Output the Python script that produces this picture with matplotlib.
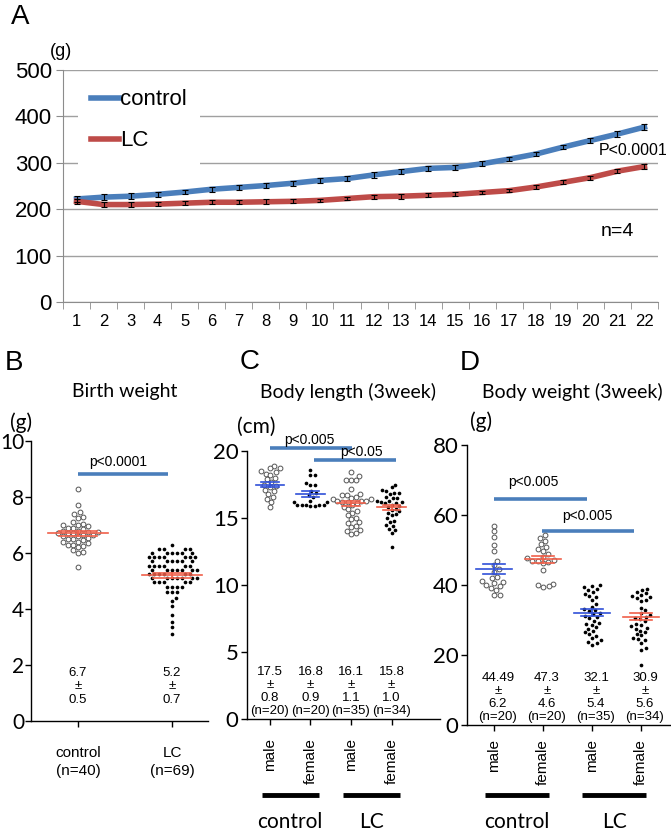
import numpy as np
import matplotlib
matplotlib.use('Agg')
import matplotlib.pyplot as plt

# ---------------- data ----------------
days = np.arange(1, 23)
control_w = [222, 226, 228, 232, 237, 243, 247, 251, 256, 262, 266, 274, 281, 288,
             290, 298, 308, 319, 334, 348, 362, 377]
control_se = [6, 6, 6, 5, 5, 5, 5, 5, 5, 6, 6, 6, 5, 6, 5, 5, 5, 5, 5, 6, 7, 7]
lc_w = [217, 210, 210, 211, 213, 215, 215, 216, 217, 219, 223, 227, 228, 230,
        232, 236, 240, 248, 258, 268, 282, 292]
lc_se = [6, 6, 6, 4, 4, 4, 4, 5, 4, 4, 4, 4, 5, 4, 4, 4, 4, 4, 4, 4, 5, 6]

birth_groups = ['control\n(n=40)', 'LC\n(n=69)']
birth_mean = ['6.7', '5.2']
birth_sd = ['0.5', '0.7']
birth_n = [40, 69]
birth_control = [8.3, 7.7, 7.45, 7.4, 7.3, 7.25, 7.1, 7.05, 7.0, 7.0, 6.95, 6.9, 6.9,
                 6.85, 6.8, 6.8, 6.75, 6.75, 6.7, 6.7, 6.7, 6.65, 6.65, 6.6, 6.6, 6.55,
                 6.5, 6.5, 6.45, 6.4, 6.4, 6.35, 6.3, 6.3, 6.25, 6.2, 6.1, 6.05, 6.0, 5.5]
birth_lc = ([6.3] + [6.15] * 4 + [6.0] * 6 + [5.85] * 7 + [5.7] * 6 + [5.55] * 6 +
            [5.4] * 7 + [5.25] * 6 + [5.1] * 7 + [4.95] * 5 + [4.8] * 4 + [4.6] * 3 +
            [4.4, 4.3, 4.1, 3.8, 3.55, 3.35, 3.1])

sex_labels = ['male', 'female', 'male', 'female']
group_labels = ['control', 'LC']

len_mean = ['17.5', '16.8', '16.1', '15.8']
len_sd = ['0.8', '0.9', '1.1', '1.0']
len_n = [20, 20, 35, 34]
len_vals = [
    [18.9, 18.7, 18.7, 18.5, 18.4, 18.3, 18.2, 18.0, 17.9, 17.7, 17.5, 17.4, 17.3,
     17.1, 17.0, 16.8, 16.6, 16.4, 16.2, 15.8],
    [18.6, 18.2, 18.2, 17.6, 17.5, 17.5, 17.0, 16.9, 16.7, 16.6, 16.3, 16.2, 16.2,
     16.0, 16.0, 16.0, 16.0, 16.0, 15.9, 15.9],
    [18.4, 18.1, 17.8, 17.8, 17.8, 17.2, 16.8, 16.7, 16.7, 16.6, 16.5, 16.4, 16.4,
     16.3, 16.3, 16.3, 16.2, 16.2, 16.1, 16.0, 15.8, 15.7, 15.5, 15.4, 15.2, 15.0,
     14.9, 14.7, 14.6, 14.4, 14.3, 14.1, 14.0, 13.9, 13.8],
    [17.5, 17.3, 17.1, 17.0, 16.9, 16.9, 16.8, 16.6, 16.5, 16.5, 16.3, 16.3, 16.2,
     16.2, 16.1, 16.1, 16.0, 15.9, 15.8, 15.7, 15.6, 15.5, 15.4, 15.3, 15.2, 15.0,
     14.8, 14.7, 14.5, 14.4, 14.2, 14.1, 13.9, 12.8],
]

wt_mean = ['44.49', '47.3', '32.1', '30.9']
wt_sd = ['6.2', '4.6', '5.4', '5.6']
wt_n = [20, 20, 35, 34]
wt_vals = [
    [57.0, 55.3, 53.6, 51.4, 49.8, 47.0, 45.6, 44.5, 43.8, 42.4, 42.0, 41.2, 41.0,
     40.5, 40.0, 39.8, 39.2, 38.6, 37.2, 37.1],
    [54.2, 53.4, 52.6, 51.6, 50.9, 50.3, 49.6, 48.9, 48.0, 47.6, 47.2, 47.0, 46.9,
     46.7, 46.2, 44.3, 40.4, 40.0, 39.6, 39.5],
    [40.0, 39.6, 39.3, 38.8, 38.5, 38.0, 37.5, 37.0, 36.5, 35.8, 34.5, 33.8, 33.2,
     32.8, 32.5, 32.0, 31.6, 31.2, 30.8, 30.5, 29.8, 29.2, 28.8, 28.5, 28.0, 27.5,
     27.0, 26.5, 26.0, 25.5, 24.8, 24.2, 23.8, 23.4, 23.0],
    [39.0, 38.6, 38.0, 37.6, 37.2, 36.8, 36.5, 36.2, 35.8, 35.5, 33.5, 32.8, 32.0,
     31.5, 31.0, 30.6, 30.2, 29.6, 29.0, 28.6, 28.2, 27.8, 27.4, 27.0, 26.5, 26.0,
     25.6, 25.0, 24.6, 24.2, 23.5, 22.0, 21.4, 17.1],
]

BLUE = '#4a7ebb'
RED = '#be4b48'
MBLUE = '#3050d8'
MRED = '#f0604a'
ARIAL = 'Liberation Sans'
CAL = 'Lato'

W, H = 671, 835
fig = plt.figure(figsize=(W / 100, H / 100), dpi=100)


def rect(l, t, r, b):
    return [l / W, 1 - b / H, (r - l) / W, (b - t) / H]


def ftext(x, y, s, **kw):
    fig.text(x / W, 1 - y / H, s, **kw)


def swarm(vals, sy, sx, d):
    ys = np.asarray(vals, dtype=float) * sy
    xs = np.zeros(len(ys))
    placed = []
    for i in np.argsort(ys):
        y = ys[i]
        cands = [0.0]
        for px, py in placed:
            dy = abs(py - y)
            if dy < d:
                dx = np.sqrt(d * d - dy * dy)
                cands += [px + dx, px - dx]
        cands.sort(key=abs)
        for c in cands:
            if all((c - px) ** 2 + (y - py) ** 2 >= d * d - 1e-6 for px, py in placed):
                xs[i] = c
                break
        placed.append((xs[i], y))
    return xs / sx


def draw_group(ax, x, vals, filled, color, mean, sem, sx, sy, mw, cw):
    d = 5.0 if filled else 5.6
    off = swarm(vals, sy, sx, d)
    if filled:
        ax.scatter(x + off, vals, s=7, color='black', lw=0, zorder=3, clip_on=False)
    else:
        ax.scatter(x + off, vals, s=12, facecolor='white', edgecolor='#555555',
                   lw=0.7, zorder=3, clip_on=False)
    ax.plot([x - mw, x + mw], [mean, mean], color=color, lw=1.2, zorder=4)
    for yy in (mean - sem, mean + sem):
        ax.plot([x - cw, x + cw], [yy, yy], color=color, lw=1.2, zorder=4)
    ax.plot([x, x], [mean - sem, mean + sem], color=color, lw=1.2, zorder=4)


def style_dot_axes(ax):
    for s in ('top', 'right'):
        ax.spines[s].set_visible(False)
    ax.spines['left'].set_linewidth(1)
    ax.spines['bottom'].set_linewidth(1)
    ax.tick_params(axis='y', length=4, width=1, labelsize=16, pad=2)
    ax.tick_params(axis='x', length=4, width=1)
    for lab in ax.get_yticklabels():
        lab.set_family(CAL)


# ---------------- panel A ----------------
axA = fig.add_axes(rect(63, 70, 658, 302))
axA.plot(days, control_w, color=BLUE, lw=4, label='control', zorder=3)
axA.plot(days, lc_w, color=RED, lw=4, label='LC', zorder=3)
axA.errorbar(days, control_w, yerr=control_se, fmt='none', ecolor='black',
             elinewidth=0.8, capsize=2.5, capthick=0.8, zorder=4)
axA.errorbar(days, lc_w, yerr=lc_se, fmt='none', ecolor='black',
             elinewidth=0.8, capsize=2.5, capthick=0.8, zorder=4)
axA.set_xlim(0.5, 22.5)
axA.set_ylim(0, 500)
axA.set_yticks(range(0, 501, 100))
axA.set_xticks(days)
axA.set_xticklabels([str(d) for d in days], family=ARIAL, fontsize=12)
axA.set_xticks(np.arange(0.5, 23, 1), minor=True)
axA.tick_params(axis='x', which='major', length=0, pad=9)
axA.tick_params(axis='x', which='minor', length=5, color='#8c8c8c', direction='out')
axA.tick_params(axis='y', length=5, color='#8c8c8c', labelsize=16, pad=3)
for lab in axA.get_yticklabels():
    lab.set_family(ARIAL)
axA.yaxis.grid(True, color='#a0a0a0', lw=1)
axA.set_axisbelow(True)
for s in ('top', 'right'):
    axA.spines[s].set_visible(False)
axA.spines['left'].set_color('#8c8c8c')
axA.spines['bottom'].set_color('#8c8c8c')
leg = axA.legend(loc='upper left', bbox_to_anchor=(78 / W, 1 - 76 / H),
                 bbox_transform=fig.transFigure, frameon=True, fancybox=False,
                 edgecolor='none', facecolor='white', framealpha=1,
                 prop={'family': ARIAL, 'size': 16}, handlelength=1.25,
                 handletextpad=0.05, labelspacing=0.9, borderpad=0.6,
                 borderaxespad=0)
axA.text(20.3, 327, 'P<0.0001', family=ARIAL, fontsize=11.5, ha='left', va='center')
axA.text(21.0, 151, 'n=4', family=ARIAL, fontsize=14, ha='center', va='center')
ftext(61, 52, '(g)', family=ARIAL, fontsize=13, ha='center', va='center')
ftext(20, 17, 'A', family=ARIAL, fontsize=20, ha='center', va='center')

# ---------------- panel B ----------------
axB = fig.add_axes(rect(31, 441, 208, 721))
sxB, syB = 94.0, 28.0
axB.set_xlim(-47 / sxB, 130 / sxB)
axB.set_ylim(0, 10)
axB.set_yticks(range(0, 11, 2))
axB.set_xticks([0, 1])
axB.set_xticklabels(birth_groups, family=ARIAL, fontsize=11, linespacing=1.35)
style_dot_axes(axB)
axB.tick_params(axis='y', labelsize=15, pad=1)
axB.tick_params(axis='x', pad=14)
for i, vals in enumerate([birth_control, birth_lc]):
    m = float(birth_mean[i])
    sem = float(birth_sd[i]) / np.sqrt(birth_n[i])
    draw_group(axB, i, vals, i == 1, MRED, m, sem, sxB, syB, 0.32, 0.2)
    axB.text(i, 0.55, f'{birth_mean[i]}\n±\n{birth_sd[i]}', family=ARIAL,
             fontsize=9.5, ha='center', va='bottom', linespacing=1.15)
axB.plot([0, 0.96], [8.82, 8.82], color=BLUE, lw=2.6, solid_capstyle='butt')
axB.text(0.43, 9.25, 'p<0.0001', family=ARIAL, fontsize=10, ha='center', va='center')
ftext(125, 392, 'Birth weight', family=CAL, fontsize=14, ha='center', va='center')
ftext(21, 423, '(g)', family=CAL, fontsize=15, ha='center', va='center')
ftext(14, 363, 'B', family=ARIAL, fontsize=20, ha='center', va='center')

# ---------------- panel C ----------------
axC = fig.add_axes(rect(247, 451, 440, 719))
sxC, syC = 46.0, 13.4
axC.set_xlim(-26 / sxC, 193 / sxC)
axC.set_ylim(0, 20)
axC.set_yticks(range(0, 21, 5))
axC.set_xticks(range(4))
axC.set_xticklabels(sex_labels, family=ARIAL, fontsize=11, rotation=90)
style_dot_axes(axC)
axC.tick_params(axis='x', pad=10)
c_cols = [MBLUE, MBLUE, MRED, MRED]
c_fill = [False, True, False, True]
for i, vals in enumerate(len_vals):
    m = float(len_mean[i])
    sem = float(len_sd[i]) / np.sqrt(len_n[i])
    draw_group(axC, i, vals, c_fill[i], c_cols[i], m, sem, sxC, syC, 0.35, 0.22)
    axC.text(i, 0.12, f'{len_mean[i]}\n±\n{len_sd[i]}\n(n={len_n[i]})', family=ARIAL,
             fontsize=9.5, ha='center', va='bottom', linespacing=1.12)
axC.plot([0, 2.02], [20.2, 20.2], color=BLUE, lw=2.6, solid_capstyle='butt', clip_on=False)
axC.plot([1.09, 3.1], [19.3, 19.3], color=BLUE, lw=2.6, solid_capstyle='butt', clip_on=False)
axC.text(0.98, 20.85, 'p<0.005', family=ARIAL, fontsize=10, ha='center', va='center')
axC.text(2.26, 19.9, 'p<0.05', family=ARIAL, fontsize=10, ha='center', va='center')
tC = axC.get_xaxis_transform()
for x0, x1, lab in [(-0.2, 1.2, group_labels[0]), (1.8, 3.2, group_labels[1])]:
    axC.plot([x0, x1], [-0.284, -0.284], transform=tC, clip_on=False, color='black',
             lw=3.5, solid_capstyle='butt')
    axC.text((x0 + x1) / 2, -0.384, lab, transform=tC, family=CAL, fontsize=15,
             ha='center', va='center')
ftext(348, 392, 'Body length (3week)', family=CAL, fontsize=14, ha='center', va='center')
ftext(256, 427, '(cm)', family=CAL, fontsize=15, ha='center', va='center')
ftext(250, 362, 'C', family=ARIAL, fontsize=20, ha='center', va='center')

# ---------------- panel D ----------------
axD = fig.add_axes(rect(467, 445, 670, 725))
sxD, syD = 49.0, 3.5
axD.set_xlim(-27 / sxD, 176 / sxD)
axD.set_ylim(0, 80)
axD.set_yticks(range(0, 81, 20))
axD.set_xticks(range(4))
axD.set_xticklabels(sex_labels, family=ARIAL, fontsize=11, rotation=90)
style_dot_axes(axD)
axD.tick_params(axis='x', pad=6)
d_cols = [MBLUE, MRED, MBLUE, MRED]
d_fill = [False, False, True, True]
for i, vals in enumerate(wt_vals):
    m = float(wt_mean[i])
    sem = float(wt_sd[i]) / np.sqrt(wt_n[i])
    draw_group(axD, i, vals, d_fill[i], d_cols[i], m, sem, sxD, syD, 0.37, 0.22)
    axD.text(i + 0.08, 0.5, f'{wt_mean[i]}\n±\n{wt_sd[i]}\n(n={wt_n[i]})', family=ARIAL,
             fontsize=9.5, ha='center', va='bottom', linespacing=1.12)
axD.plot([0, 1.9], [64.6, 64.6], color=BLUE, lw=2.6, solid_capstyle='butt')
axD.plot([0.98, 2.86], [55.4, 55.4], color=BLUE, lw=2.6, solid_capstyle='butt')
axD.text(0.8, 69.5, 'p<0.005', family=ARIAL, fontsize=10, ha='center', va='center')
axD.text(1.9, 59.8, 'p<0.005', family=ARIAL, fontsize=10, ha='center', va='center')
tD = axD.get_xaxis_transform()
for x0, x1, lab in [(-0.18, 1.12, group_labels[0]), (1.8, 3.1, group_labels[1])]:
    axD.plot([x0, x1], [-0.25, -0.25], transform=tD, clip_on=False, color='black',
             lw=3.5, solid_capstyle='butt')
    axD.text((x0 + x1) / 2, -0.3464, lab, transform=tD, family=CAL, fontsize=15,
             ha='center', va='center')
ftext(572, 392, 'Body weight (3week)', family=CAL, fontsize=14, ha='center', va='center')
ftext(481, 422, '(g)', family=CAL, fontsize=15, ha='center', va='center')
ftext(470, 363, 'D', family=ARIAL, fontsize=20, ha='center', va='center')

fig.savefig('out.png', dpi=100)
